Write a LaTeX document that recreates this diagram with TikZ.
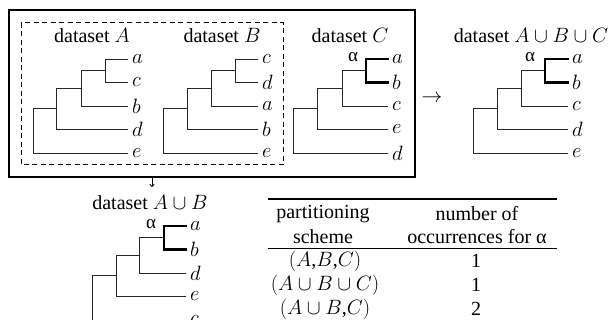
\documentclass[tikz,border=0pt]{standalone}
\usepackage{fontspec}
\setmainfont{Liberation Serif}
\usetikzlibrary{arrows.meta}
\begin{document}
\begin{tikzpicture}[x=1pt,y=-1pt,
  edge/.style={line width=0.9pt,draw=black!85},
  thk/.style={line width=2.8pt,line cap=rect},
  leaf/.style={anchor=west,inner sep=0pt,outer sep=0pt,font=\fontsize{20}{23}\selectfont},
  ttl/.style={inner sep=0pt,font=\fontsize{20}{23}\selectfont},
  alp/.style={inner sep=0pt,font=\fontsize{19}{22}\selectfont},
  cell/.style={inner sep=0pt,font=\fontsize{20}{23}\selectfont}]
\useasboundingbox (0,0) rectangle (608,320);
\clip (0,0) rectangle (608,320);
% boxes
\draw[line width=1.3pt] (9,10) rectangle (415,177);
\draw[line width=1pt,dash pattern=on 5pt off 3.5pt] (21,23) rectangle (283,165);
% titles
\node[ttl] (tA) at (92,36) {dataset $A$};
\node[ttl] (tB) at (222,36) {dataset $B$};
\node[ttl] (tC) at (350,36) {dataset $C$};
\node[ttl] (tABC) at (531,36) {dataset $A\cup B\cup C$};
\node[ttl] (tAB) at (150,203) {dataset $A\cup B$};
% ---------- tree A ----------
\coordinate (a1) at (128,59); \coordinate (a2) at (128,82.5); \coordinate (a3) at (128,106);
\coordinate (a4) at (128,129.5); \coordinate (a5) at (128,153);
\node[leaf] (la1) at (132,59) {$a$};
\node[leaf] (la2) at (132,82.5) {$c$};
\node[leaf] (la3) at (132,106) {$b$};
\node[leaf] (la4) at (132,129.5) {$d$};
\node[leaf] (la5) at (132,153) {$e$};
\coordinate (an3) at (105,70.75);
\coordinate (an2) at (81,88.4);
\coordinate (an1) at (56,108.9);
\coordinate (an0) at (33,131);
\draw[edge] (an3) |- (a1) (an3) |- (a2);
\draw[edge] (an2) |- (an3) (an2) |- (a3);
\draw[edge] (an1) |- (an2) (an1) |- (a4);
\draw[edge] (an0) |- (an1) (an0) |- (a5);
% ---------- tree B ----------
\coordinate (b1) at (258,59); \coordinate (b2) at (258,82.5); \coordinate (b3) at (258,106);
\coordinate (b4) at (258,129.5); \coordinate (b5) at (258,153);
\node[leaf] (lb1) at (262,59) {$c$};
\node[leaf] (lb2) at (262,82.5) {$d$};
\node[leaf] (lb3) at (262,106) {$a$};
\node[leaf] (lb4) at (262,129.5) {$b$};
\node[leaf] (lb5) at (262,153) {$e$};
\coordinate (bn3) at (235,70.75);
\coordinate (bn2) at (211,88.4);
\coordinate (bn1) at (187,108.9);
\coordinate (bn0) at (163,131);
\draw[edge] (bn3) |- (b1) (bn3) |- (b2);
\draw[edge] (bn2) |- (bn3) (bn2) |- (b3);
\draw[edge] (bn1) |- (bn2) (bn1) |- (b4);
\draw[edge] (bn0) |- (bn1) (bn0) |- (b5);
% ---------- tree C ----------
\coordinate (c1) at (388,59); \coordinate (c2) at (388,82.5); \coordinate (c3) at (388,106);
\coordinate (c4) at (388,129.5); \coordinate (c5) at (388,153);
\node[leaf] (lc1) at (392,59) {$a$};
\node[leaf] (lc2) at (392,82.5) {$b$};
\node[leaf] (lc3) at (392,106) {$c$};
\node[leaf] (lc4) at (392,129.5) {$e$};
\node[leaf] (lc5) at (392,153) {$d$};
\coordinate (cn3) at (366,70.75);
\coordinate (cn2) at (342,88.4);
\coordinate (cn1) at (317,108.9);
\coordinate (cn0) at (293,131);
\draw[edge] (cn2) |- (cn3) (cn2) |- (c3);
\draw[edge] (cn1) |- (cn2) (cn1) |- (c4);
\draw[edge] (cn0) |- (cn1) (cn0) |- (c5);
\draw[thk] (c1) -| (cn3) |- (c2);
\node[alp] (alC) at (353,57) {α};
% ---------- tree A u B u C ----------
\coordinate (d1) at (568,59); \coordinate (d2) at (568,82.5); \coordinate (d3) at (568,106);
\coordinate (d4) at (568,129.5); \coordinate (d5) at (568,153);
\node[leaf] (ld1) at (572,59) {$a$};
\node[leaf] (ld2) at (572,82.5) {$b$};
\node[leaf] (ld3) at (572,106) {$c$};
\node[leaf] (ld4) at (572,129.5) {$d$};
\node[leaf] (ld5) at (572,153) {$e$};
\coordinate (dn3) at (545,70.75);
\coordinate (dn2) at (521,88.4);
\coordinate (dn1) at (497,108.9);
\coordinate (dn0) at (473,131);
\draw[edge] (dn2) |- (dn3) (dn2) |- (d3);
\draw[edge] (dn1) |- (dn2) (dn1) |- (d4);
\draw[edge] (dn0) |- (dn1) (dn0) |- (d5);
\draw[thk] (d1) -| (dn3) |- (d2);
\node[alp] (alD) at (530,57) {α};
% ---------- tree A u B ----------
\coordinate (e1) at (186,226); \coordinate (e2) at (186,249.5); \coordinate (e3) at (186,273);
\coordinate (e4) at (186,296.5); \coordinate (e5) at (186,320);
\node[leaf] (le1) at (190,226) {$a$};
\node[leaf] (le2) at (190,249.5) {$b$};
\node[leaf] (le3) at (190,273) {$d$};
\node[leaf] (le4) at (190,296.5) {$e$};
\node[leaf] (le5) at (190,320) {$c$};
\coordinate (en3) at (164,237.75);
\coordinate (en2) at (139,255.4);
\coordinate (en1) at (116,275.9);
\coordinate (en0) at (92,298);
\draw[edge] (en2) |- (en3) (en2) |- (e3);
\draw[edge] (en1) |- (en2) (en1) |- (e4);
\draw[edge] (en0) |- (en1) (en0) |- (e5);
\draw[thk] (e1) -| (en3) |- (e2);
\node[alp] (alE) at (151,224) {α};
% ---------- arrows ----------
\node[inner sep=0pt,font=\fontsize{20}{23}\selectfont] (arR) at (432,99) {$\rightarrow$};
\coordinate (dn) at (152,177);
\coordinate (dnend) at (152,187);
\draw[line width=0.8pt,-{To[length=3pt,width=5pt]}] (dn) -- (dnend);
% ---------- table ----------
\coordinate (r1a) at (268,199); \coordinate (r1b) at (557,199);
\coordinate (r2a) at (268,249); \coordinate (r2b) at (557,249);
\draw[line width=1.3pt] (r1a) -- (r1b);
\draw[line width=1pt] (r2a) -- (r2b);
\node[cell] (h11) at (323,214) {partitioning};
\node[cell] (h12) at (323,237) {scheme};
\node[cell] (h21) at (477,214) {number of};
\node[cell] (h22) at (477,237) {occurrences for α};
\node[cell] (c11) at (325,261) {$(A$,$B$,$C)$};
\node[cell] (c21) at (476,261) {1};
\node[cell] (c12) at (325,285) {$(A\cup B\cup C)$};
\node[cell] (c22) at (476,285) {1};
\node[cell] (c13) at (325,309) {$(A\cup B$,$C)$};
\node[cell] (c23) at (476,309) {2};
\end{tikzpicture}
\end{document}
